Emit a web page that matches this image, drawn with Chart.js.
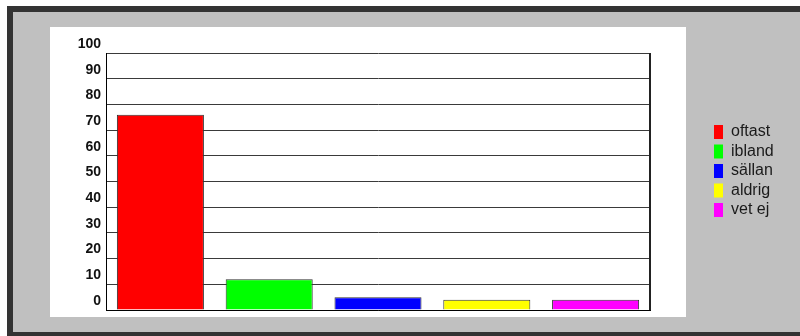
<!DOCTYPE html>
<html>
<head>
<meta charset="utf-8">
<script src="https://cdn.jsdelivr.net/npm/chart.js@4"></script>
<style>
html,body{margin:0;padding:0;background:#fff;}
#c{display:block;}
</style>
</head>
<body>
<canvas id="c" width="800" height="336"></canvas>
<script>
const categories = ["oftast", "ibland", "sällan", "aldrig", "vet ej"];
const values = [76, 12, 5, 4, 4];
const colors = ["#ff0000", "#00ff00", "#0000ff", "#ffff00", "#ff00ff"];
const yTicks = [0, 10, 20, 30, 40, 50, 60, 70, 80, 90, 100];

const framePlugin = {
  id: 'frame',
  beforeDraw(chart) {
    const ctx = chart.ctx;
    ctx.save();
    ctx.fillStyle = '#ffffff';
    ctx.fillRect(0, 0, 800, 336);
    ctx.fillStyle = '#333333';
    ctx.fillRect(7, 6, 793, 330);
    ctx.fillStyle = '#c0c0c0';
    ctx.fillRect(13, 12, 787, 320);
    ctx.fillStyle = '#ffffff';
    ctx.fillRect(50, 27, 636, 290);
    ctx.restore();
  },
  afterDraw(chart) {
    const ctx = chart.ctx;
    const a = chart.chartArea;
    ctx.save();
    ctx.strokeStyle = '#222';
    ctx.lineWidth = 2;
    ctx.beginPath();
    ctx.moveTo(a.right, a.top);
    ctx.lineTo(a.right, a.bottom);
    ctx.stroke();
    // legend
    ctx.font = '16px "Liberation Sans", Arial, sans-serif';
    ctx.textBaseline = 'middle';
    categories.forEach((name, i) => {
      const y = 132 + i * 19.5;
      ctx.fillStyle = colors[i];
      ctx.fillRect(714, y - 7, 9, 14);
      ctx.fillStyle = '#1a1a1a';
      ctx.fillText(name, 731, y);
    });
    ctx.restore();
  }
};

new Chart(document.getElementById('c'), {
  type: 'bar',
  data: {
    labels: categories,
    datasets: [{
      data: values,
      backgroundColor: colors,
      borderColor: '#333',
      borderWidth: 1,
      barPercentage: 0.8,
      categoryPercentage: 1.0
    }]
  },
  options: {
    responsive: false,
    animation: false,
    events: [],
    layout: { padding: { left: 0, right: 150, top: 53, bottom: 26 } },
    plugins: { legend: { display: false }, tooltip: { enabled: false } },
    scales: {
      x: {
        grid: { display: false },
        border: { display: true, color: '#000', width: 1 },
        ticks: { display: false },
        afterFit(s) { s.height = 0; }
      },
      y: {
        min: 0, max: 100,
        afterBuildTicks(s) { s.ticks = yTicks.map(v => ({ value: v })); },
        grid: { color: '#3a3a3a', lineWidth: 1, drawTicks: false },
        border: { display: true, color: '#000', width: 1 },
        ticks: {
          color: '#111',
          font: { family: '"Liberation Sans", Arial, sans-serif', size: 14, weight: 'bold' },
          padding: 5,
          labelOffset: -9
        },
        afterFit(s) { s.width = 106; }
      }
    }
  },
  plugins: [framePlugin]
});
</script>
</body>
</html>
